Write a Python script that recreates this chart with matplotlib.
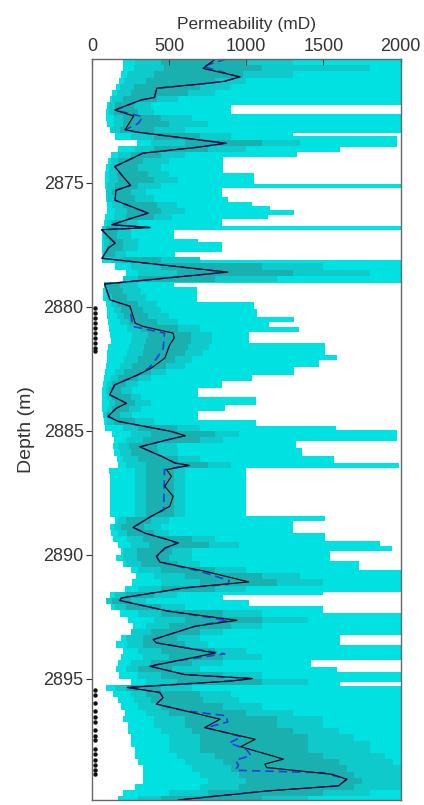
import numpy as np
import matplotlib.pyplot as plt

plt.rcParams['font.family'] = ['Liberation Sans', 'DejaVu Sans']

# black line (median) vertices: depth (m), permeability (mD)
black_depth = [2870.00, 2870.38, 2870.72, 2870.90, 2871.00, 2871.18, 2871.55, 2871.65, 2872.06, 2872.30,
               2872.50, 2872.85, 2872.95, 2873.40, 2873.55, 2873.80, 2874.34, 2874.74, 2875.10, 2875.30,
               2875.70, 2876.22, 2876.49, 2876.69, 2876.80, 2876.89, 2877.23, 2877.43, 2877.63, 2878.04,
               2878.60, 2879.08, 2879.72, 2879.98, 2880.25, 2880.66, 2880.79, 2881.06, 2881.26, 2881.53,
               2882.07, 2882.47, 2882.74, 2883.15, 2883.55, 2883.89, 2884.09, 2884.42, 2884.62, 2885.03,
               2885.20, 2885.36, 2885.65, 2886.03, 2886.30, 2886.40, 2886.57, 2886.84, 2887.24, 2887.65,
               2888.05, 2888.45, 2888.90, 2889.13, 2889.40, 2889.53, 2889.73, 2890.07, 2890.30, 2890.67,
               2891.10, 2891.34, 2891.75, 2891.85, 2892.28, 2892.65, 2892.89, 2893.43, 2893.56, 2893.97,
               2894.30, 2894.50, 2894.84, 2895.00, 2895.10, 2895.36, 2895.56, 2895.77, 2896.03, 2896.30,
               2896.64, 2896.98, 2897.45, 2897.75, 2898.25, 2898.45, 2898.59, 2898.86, 2899.06, 2899.33,
               2899.53, 2899.90]
black_perm = [800, 720, 960, 860, 720, 420, 405, 320, 148, 270,
              250, 215, 290, 870, 700, 330, 148, 200, 250, 155,
              150, 365, 225, 128, 377, 63, 117, 150, 106, 65,
              880, 82, 117, 247, 260, 280, 330, 526, 533, 504,
              472, 385, 299, 147, 115, 223, 158, 104, 169, 515,
              605, 494, 310, 450, 537, 630, 483, 515, 472, 526,
              504, 385, 266, 342, 494, 560, 472, 418, 440, 732,
              1015, 602, 190, 180, 494, 940, 667, 396, 418, 800,
              537, 375, 602, 1040, 900, 230, 439, 461, 418, 602,
              830, 730, 1057, 965, 1241, 1121, 1132, 1554, 1652, 1598,
              1143, 560]

# blue dashed line vertices
blue_depth = [2870.00, 2870.30, 2870.72, 2870.90, 2871.00, 2871.18, 2871.55, 2871.65, 2872.06, 2872.33,
              2872.60, 2872.85, 2872.95, 2873.40, 2873.55, 2873.80, 2874.34, 2874.74, 2875.10, 2875.30,
              2875.70, 2876.22, 2876.49, 2876.69, 2876.80, 2876.89, 2877.23, 2877.43, 2877.63, 2878.04,
              2878.60, 2879.08, 2879.72, 2879.98, 2880.25, 2880.79, 2881.06, 2881.70, 2882.07, 2882.47,
              2882.74, 2883.15, 2883.55, 2883.89, 2884.09, 2884.42, 2884.62, 2885.03, 2885.20, 2885.36,
              2885.65, 2886.03, 2886.30, 2886.40, 2886.57, 2888.20, 2888.45, 2888.90, 2889.13, 2889.40,
              2889.53, 2889.73, 2890.07, 2890.30, 2890.67, 2891.05, 2891.20, 2891.34, 2891.75, 2891.85,
              2892.28, 2892.65, 2892.89, 2893.43, 2893.56, 2894.00, 2894.30, 2894.50, 2894.84, 2895.00,
              2895.10, 2895.36, 2895.56, 2895.77, 2896.03, 2896.30, 2896.50, 2896.75, 2896.98, 2897.35,
              2897.60, 2897.85, 2898.10, 2898.30, 2898.50, 2898.70, 2898.80, 2899.06, 2899.33, 2899.53,
              2899.90]
blue_perm = [870, 720, 950, 860, 720, 420, 405, 320, 148, 330,
             300, 215, 290, 860, 700, 330, 148, 200, 250, 155,
             150, 360, 225, 128, 370, 63, 117, 150, 106, 65,
             870, 82, 117, 247, 250, 265, 470, 461, 420, 370,
             299, 147, 115, 223, 158, 104, 169, 515, 600, 494,
             310, 450, 537, 620, 470, 465, 385, 266, 342, 494,
             550, 480, 418, 440, 700, 890, 880, 602, 190, 180,
             494, 880, 667, 396, 418, 860, 537, 375, 602, 1030,
             900, 230, 439, 461, 418, 602, 870, 880, 740, 970,
             890, 1000, 1030, 930, 950, 930, 1500, 1652, 1598, 1143,
             560]

# band edges on a 0.25 m grid starting at 2870 m
grid_top = 2870.0
grid_step = 0.25
outer_lo = [200, 200, 190, 175, 158, 130, 115, 100, 93, 93, 100, 115, 150, 290, 170, 120,
            104, 90, 82, 82, 85, 90, 93, 100, 100, 85, 80, 65, 62, 65, 68, 65,
            62, 150, 220, 200, 120, 72, 72, 90, 95, 100, 104, 110, 115, 120, 104, 100,
            95, 93, 85, 80, 72, 65, 62, 62, 65, 70, 75, 82, 130, 140, 136, 140,
            165, 170, 110, 115, 115, 115, 115, 115, 115, 115, 147, 115, 125, 136, 170, 190,
            158, 200, 250, 288, 260, 212, 115, 93, 120, 180, 234, 266, 250, 190, 158, 201,
            190, 169, 158, 175, 250, 93, 136, 169, 190, 212, 200, 234, 234, 255, 255, 277,
            277, 300, 331, 331, 330, 280, 200, 170]
mid_lo = [280, 270, 230, 210, 180, 160, 130, 110, 110, 140, 140, 120, 250, 380, 280, 170,
          120, 110, 110, 110, 100, 90, 100, 130, 150, 140, 100, 70, 70, 80, 80, 70,
          120, 250, 300, 200, 80, 90, 100, 120, 140, 160, 180, 230, 260, 250, 240, 230,
          210, 180, 150, 120, 100, 90, 100, 110, 100, 80, 100, 200, 250, 220, 170, 180,
          200, 220, 280, 280, 280, 280, 280, 280, 280, 280, 160, 140, 170, 230, 250, 200,
          200, 220, 300, 400, 450, 300, 150, 100, 150, 300, 400, 350, 250, 220, 230, 300,
          330, 250, 220, 300, 350, 150, 250, 270, 300, 350, 400, 400, 450, 500, 500, 500,
          550, 600, 650, 700, 750, 700, 500, 300]
mid_hi = [1300, 1800, 1300, 1000, 900, 800, 560, 380, 400, 650, 750, 600, 900, 1350, 1000, 600,
          500, 450, 500, 560, 450, 350, 400, 550, 600, 520, 300, 250, 250, 300, 300, 220,
          700, 1500, 1800, 1200, 300, 320, 350, 420, 450, 500, 560, 700, 780, 780, 760, 720,
          650, 600, 480, 380, 300, 260, 320, 380, 320, 260, 400, 700, 950, 850, 550, 560,
          700, 900, 600, 600, 600, 600, 600, 600, 600, 600, 500, 450, 500, 800, 950, 650,
          650, 700, 1000, 1350, 1500, 1000, 550, 350, 600, 1100, 1400, 1100, 850, 700, 750, 1000,
          1100, 850, 700, 1100, 1400, 650, 900, 950, 1100, 1300, 1500, 1500, 1600, 1700, 1800, 1800,
          1900, 1950, 2000, 2000, 2000, 2000, 1800, 1400]
in_lo = [450, 470, 400, 350, 270, 250, 200, 150, 140, 200, 200, 180, 400, 600, 400, 250,
         170, 150, 160, 170, 150, 130, 150, 200, 230, 220, 130, 90, 90, 110, 100, 80,
         200, 450, 550, 300, 100, 110, 130, 160, 190, 210, 240, 320, 360, 350, 340, 330,
         300, 260, 210, 170, 130, 110, 130, 150, 130, 100, 140, 300, 380, 330, 240, 250,
         300, 350, 350, 350, 350, 350, 350, 350, 350, 350, 220, 190, 230, 330, 370, 290,
         290, 320, 450, 600, 700, 450, 220, 130, 220, 450, 600, 500, 380, 330, 330, 450,
         500, 380, 300, 450, 550, 220, 350, 380, 450, 500, 600, 600, 650, 700, 700, 700,
         800, 850, 900, 950, 1000, 950, 750, 450]
in_hi = [990, 1100, 980, 800, 700, 620, 420, 270, 300, 450, 500, 400, 700, 1100, 750, 450,
         330, 300, 360, 400, 300, 250, 280, 420, 450, 400, 230, 170, 160, 200, 200, 150,
         450, 1100, 1300, 800, 180, 200, 230, 300, 330, 360, 420, 560, 640, 640, 620, 600,
         540, 480, 380, 300, 220, 190, 250, 280, 240, 180, 280, 550, 800, 700, 420, 430,
         560, 750, 530, 530, 530, 530, 530, 530, 530, 530, 380, 340, 400, 650, 760, 520,
         500, 560, 800, 1100, 1200, 800, 400, 250, 450, 850, 1100, 900, 700, 550, 600, 800,
         850, 650, 520, 850, 1100, 450, 700, 720, 850, 1000, 1200, 1200, 1300, 1400, 1400, 1400,
         1500, 1600, 1650, 1700, 1750, 1700, 1500, 1100]

# outer right edge, step breakpoints (value holds from depth down to next depth)
hi_depth = [2870.00, 2871.85, 2872.20, 2872.97, 2873.12, 2873.54, 2873.74, 2873.94, 2874.60, 2875.05,
            2875.22, 2875.55, 2875.75, 2875.95, 2876.09, 2876.29, 2876.45, 2876.72, 2876.90, 2877.25,
            2877.40, 2877.77, 2878.10, 2879.05, 2879.20, 2879.80, 2880.10, 2880.40, 2880.60, 2880.80,
            2881.00, 2881.45, 2881.95, 2882.15, 2882.42, 2882.75, 2883.00, 2883.28, 2883.62, 2883.95,
            2884.22, 2884.55, 2884.80, 2884.95, 2885.43, 2885.70, 2886.03, 2886.32, 2886.50, 2888.45,
            2888.66, 2889.13, 2889.46, 2889.66, 2889.87, 2890.27, 2890.60, 2891.50, 2891.62, 2891.82,
            2892.08, 2892.35, 2893.25, 2893.65, 2894.25, 2894.55, 2894.75, 2895.15, 2895.30]
hi_perm = [2000, 900, 2000, 1300, 1980, 1610, 1330, 850, 1050, 2000,
           840, 880, 1035, 1155, 1310, 1140, 840, 2000, 530, 690,
           840, 540, 2000, 530, 680, 1050, 1070, 1310, 1150, 1340,
           1020, 1510, 1590, 1470, 1310, 1040, 840, 690, 1060, 860,
           690, 1060, 1580, 1980, 1320, 1360, 1570, 1990, 1000, 1510,
           1305, 1510, 1870, 1945, 1540, 1730, 2000, 1500, 850, 1015,
           1500, 2000, 1610, 2000, 1420, 1590, 2000, 1610, 2000]

# core sample markers along the left axis
dot_depth = [2880.05, 2880.25, 2880.45, 2880.65, 2880.85, 2881.05, 2881.25, 2881.45, 2881.65, 2881.80,
             2895.48, 2895.68, 2895.97, 2896.29, 2896.57, 2896.77, 2897.06, 2897.30, 2897.46, 2897.86,
             2898.06, 2898.27, 2898.47, 2898.67, 2898.87]

depth_bottom = 2899.9
n = len(outer_lo)
grid_edges = grid_top + grid_step * np.arange(n)


def step_at(edges, vals, d):
    idx = np.searchsorted(edges, d, side='right') - 1
    return np.asarray(vals, dtype=float)[np.clip(idx, 0, len(vals) - 1)]


# merge the grid and the outer-right breakpoints
all_d = np.unique(np.concatenate([grid_edges, hi_depth, [depth_bottom]]))
olo = step_at(grid_edges, outer_lo, all_d)
ohi = step_at(np.array(hi_depth), hi_perm, all_d)

gd = np.append(grid_edges, depth_bottom)


def ext(v):
    return np.append(v, v[-1])


fig = plt.figure(figsize=(4.24, 8.05), dpi=100)
ax = fig.add_axes([92 / 424, 1 - 800 / 805, 308.5 / 424, 741 / 805])

c_light = '#00e1e1'
c_mid = '#0ecaca'
c_dark = '#1bb0b0'

ax.fill_betweenx(all_d, olo, ohi, step='post', color=c_light, lw=0)
ax.fill_betweenx(gd, ext(mid_lo), ext(mid_hi), step='post', color=c_mid, lw=0)
ax.fill_betweenx(gd, ext(in_lo), ext(in_hi), step='post', color=c_dark, lw=0)

ax.plot(blue_perm, blue_depth, color='#1f3fe0', lw=1.2, ls=(0, (5, 3)))
ax.plot(black_perm, black_depth, color='#0d0d1a', lw=0.9)

ax.plot([20] * len(dot_depth), dot_depth, 'o', ms=2.2, color='#111111', clip_on=False)

ax.set_xlim(0, 2000)
ax.set_ylim(depth_bottom, 2870.0)
ax.xaxis.tick_top()
ax.xaxis.set_label_position('top')
ax.set_xticks([0, 500, 1000, 1500, 2000])
ax.set_yticks([2875, 2880, 2885, 2890, 2895])
ax.tick_params(axis='x', direction='in', length=4, labelsize=13, pad=3, colors='#333333')
ax.tick_params(axis='y', direction='out', length=4, labelsize=13, pad=2, colors='#333333')
ax.set_xlabel('Permeability (mD)', fontsize=12.5, color='#333333', labelpad=6)
ax.set_ylabel('Depth (m)', fontsize=14, color='#333333', labelpad=6)
for s in ax.spines.values():
    s.set_color('#666666')
    s.set_linewidth(1.0)

fig.savefig('out.png', dpi=100)
